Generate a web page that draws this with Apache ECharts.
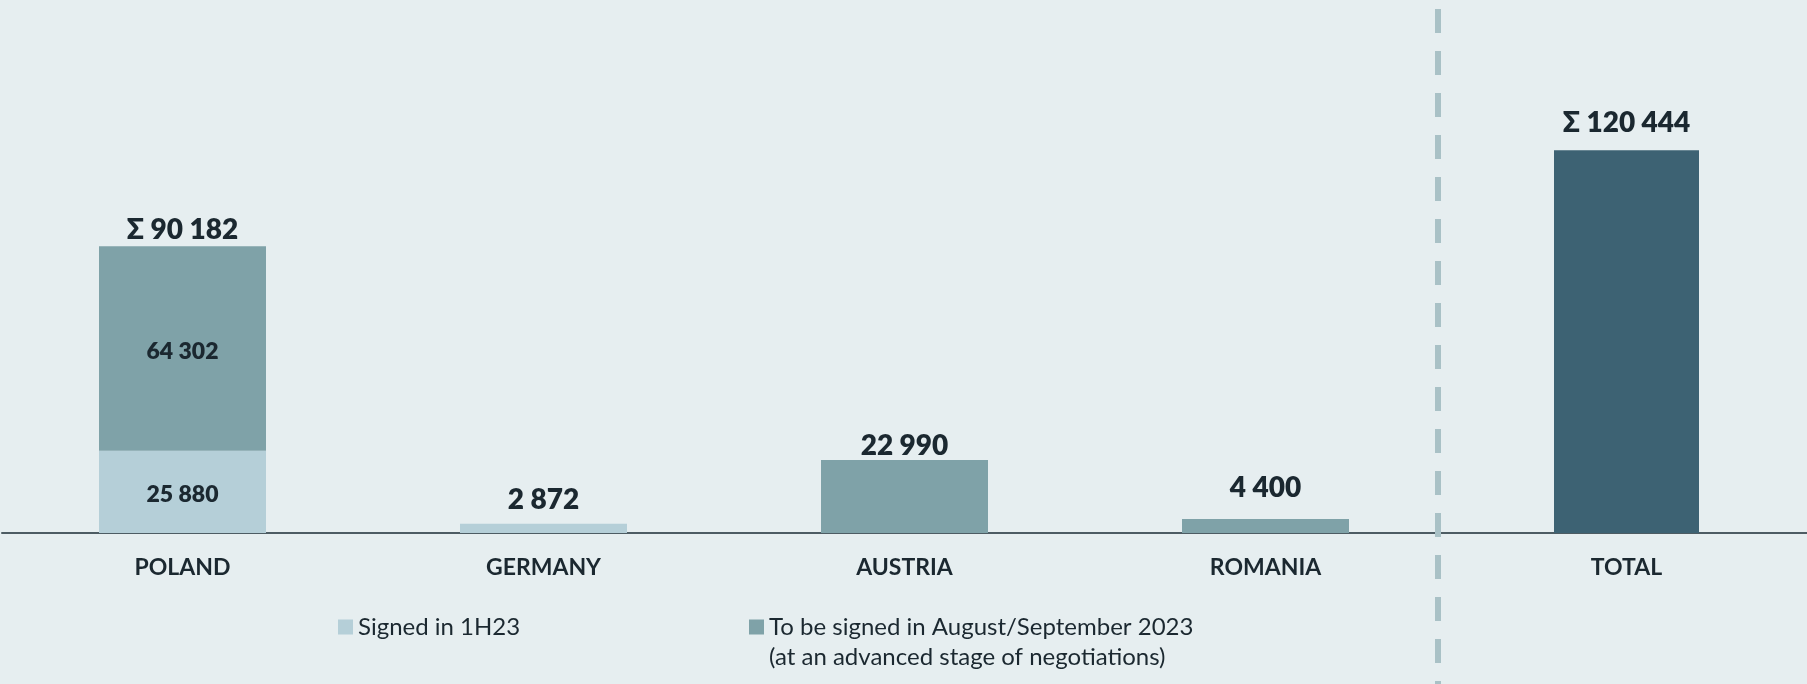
<!DOCTYPE html>
<html>
<head>
<meta charset="utf-8">
<style>
  html, body { margin: 0; padding: 0; background: #e6eef0; }
  #chart { width: 1807px; height: 684px; }
</style>
<script src="https://cdn.jsdelivr.net/npm/echarts@6/dist/echarts.min.js"></script>
</head>
<body>
<div id="chart"></div>
<script>
// categories and values
var categories = ['POLAND', 'GERMANY', 'AUSTRIA', 'ROMANIA', 'TOTAL']
var signed = [25880, 2872, 0, 0, 0]
var toBeSigned = [64302, 0, 22990, 4400, 0]
var totalAll = [0, 0, 0, 0, 120444]
var sigmaMark = [true, false, false, false, true]

var seriesNames = ['Signed in 1H23', 'To be signed in August/September 2023\n(at an advanced stage of negotiations)']

// gap between the value label and the top of its bar
var labelGap = [2, 10, 0, 17, 13]

var textColor = '#1b2830'
var font = 'Lato'

function fmt (v) {
  return String(v).replace(/\B(?=(\d{3})+(?!\d))/g, ' ')
}

function innerData (values) {
  return values.map(function (v, i) {
    var both = signed[i] > 0 && toBeSigned[i] > 0
    return {
      value: v > 0 ? v : '-',
      label: { show: both }
    }
  })
}

var sums = categories.map(function (c, i) {
  return {
    value: signed[i] + toBeSigned[i] + totalAll[i],
    label: { distance: labelGap[i] }
  }
})

var innerLabel = {
  position: 'inside',
  offset: [0, 3],
  color: textColor,
  fontFamily: font,
  fontWeight: 800,
  fontSize: 23,
  formatter: function (p) { return fmt(p.value) }
}

var chart = echarts.init(document.getElementById('chart'))

chart.setOption({
  backgroundColor: '#e6eef0',
  animation: false,
  grid: {
    left: 2,
    right: 0,
    top: 88,
    height: 445
  },
  legend: [{
    data: [seriesNames[0]],
    left: 333,
    top: 610,
    icon: 'rect',
    itemWidth: 15,
    itemHeight: 15,
    selectedMode: false,
    textStyle: { color: textColor, fontFamily: font, fontSize: 24 }
  }, {
    data: [seriesNames[1]],
    left: 744,
    top: 577,
    icon: 'rect',
    itemWidth: 15,
    itemHeight: 15,
    selectedMode: false,
    // empty first line keeps the icon level with the first real line
    formatter: function (name) { return '\n' + name },
    textStyle: {
      color: textColor,
      fontFamily: font,
      fontSize: 24,
      lineHeight: 30
    }
  }],
  xAxis: [{
    type: 'category',
    data: categories,
    axisTick: { show: false },
    axisLine: {
      lineStyle: { color: '#4d5c63', width: 2 }
    },
    axisLabel: {
      margin: 23,
      color: textColor,
      fontFamily: font,
      fontWeight: 'bold',
      fontSize: 23
    }
  }, {
    type: 'category',
    data: categories,
    show: false
  }],
  yAxis: {
    type: 'value',
    min: 0,
    max: 140000,
    show: false,
    splitLine: { show: false }
  },
  series: [{
    name: seriesNames[0],
    type: 'bar',
    stack: 'a',
    barWidth: 167,
    itemStyle: { color: '#b5cfd8' },
    label: innerLabel,
    data: innerData(signed)
  }, {
    name: seriesNames[1],
    type: 'bar',
    stack: 'a',
    barWidth: 167,
    itemStyle: { color: '#7fa2a8' },
    label: innerLabel,
    data: innerData(toBeSigned)
  }, {
    name: 'Total',
    type: 'bar',
    xAxisIndex: 1,
    barWidth: 145,
    itemStyle: { color: '#3d6273' },
    data: totalAll.map(function (v) { return v > 0 ? v : '-' })
  }, {
    name: 'sum',
    type: 'scatter',
    symbolSize: 0,
    silent: true,
    z: 5,
    itemStyle: { opacity: 1 },
    label: {
      show: true,
      position: 'top',
      opacity: 1,
      color: textColor,
      fontFamily: font,
      fontWeight: 800,
      fontSize: 28,
      formatter: function (p) {
        return (sigmaMark[p.dataIndex] ? 'Σ ' : '') + fmt(p.value)
      }
    },
    data: sums
  }],
  graphic: [{
    type: 'line',
    z: 100,
    shape: { x1: 1438, y1: 9, x2: 1438, y2: 684 },
    style: {
      stroke: '#a9c1c6',
      lineWidth: 6,
      lineDash: [24, 18]
    }
  }]
})
</script>
</body>
</html>
